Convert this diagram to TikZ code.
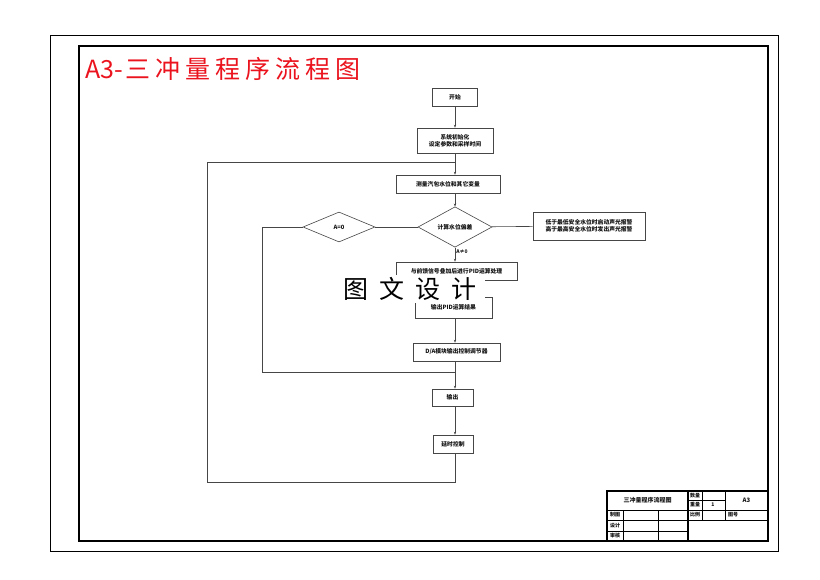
\documentclass[tikz,border=0pt]{standalone}
\usepackage{fontspec}
\usepackage{tikz}
\usetikzlibrary{arrows.meta,shapes.geometric}
\newfontfamily\cjk{Noto Sans CJK SC}
\definecolor{fcline}{RGB}{70,70,70}
\definecolor{fctext}{RGB}{20,20,20}
\definecolor{fctitle}{RGB}{235,20,30}

\begin{document}
\begin{tikzpicture}[
  x=1pt, y=-1pt,
  every node/.style={font=\cjk\bfseries\fontsize{5.8}{7}\selectfont, text=fctext},
  proc/.style={draw=fcline, fill=white, line width=0.6pt, align=center,
    inner sep=1pt},
  decide/.style={diamond, draw=fcline, fill=white, line width=0.6pt,
    inner sep=0pt, minimum width=74pt, minimum height=30pt},
  arr/.style={-{Stealth[length=3pt,width=2.4pt]}, draw=fcline, line width=0.6pt},
  link/.style={draw=fcline, line width=0.6pt},
  lab/.style={font=\cjk\bfseries\fontsize{5}{6}\selectfont, inner sep=1pt},
  cell/.style={font=\cjk\bfseries\fontsize{5}{6}\selectfont, inner sep=0pt},
  frame/.style={draw=black, line width=1.8pt}
]
  \useasboundingbox (0,0) rectangle (820,579);
  \fill[white] (0,0) rectangle (820,579);

  % drawing sheet
  \draw[black, line width=0.6pt] (50,35) rectangle (778,551);
  \draw[frame] (79,46) rectangle (768,541);
  \node[font=\cjk\fontsize{25}{25}\selectfont, text=fctitle, anchor=west,
    inner sep=0pt] (title) at (85,69)
    {A3-\hspace{3pt}三\hspace{5pt}冲\hspace{5pt}量\hspace{5pt}程\hspace{5pt}序\hspace{5pt}流\hspace{5pt}程\hspace{5pt}图};

  % flow chart
  \node[proc, minimum width=45pt, minimum height=18pt] (start) at (455,97) {开始};
  \node[proc, minimum width=76pt, minimum height=25pt] (init) at (455,140.5)
    {系统初始化\\设定参数和采样时间};
  \node[proc, minimum width=104pt, minimum height=18pt] (measure) at (448,184)
    {测量汽包水位和其它变量};
  \node[decide] (calc) at (455,227) {计算水位偏差};
  \node[decide, minimum width=72pt] (zero) at (339,227) {A=0};
  \node[proc, minimum width=112pt, minimum height=28pt] (alarm) at (589,226)
    {低于最低安全水位时启动声光报警\\高于最高安全水位时发出声光报警};
  \node[proc, minimum width=121pt, minimum height=18pt] (pid) at (456.5,271)
    {与前馈信号叠加后进行PID运算处理};
  \node[proc, minimum width=77pt, minimum height=21pt] (result) at (453.5,307.5)
    {输出PID运算结果};
  \node[proc, minimum width=87pt, minimum height=18pt] (da) at (456.5,352)
    {D/A模块输出控制调节器};
  \node[proc, minimum width=41pt, minimum height=17pt] (out) at (452.5,397.5) {输出};
  \node[proc, minimum width=40pt, minimum height=18pt] (delay) at (453,444) {延时控制};

  \coordinate (jtop) at (455,162);
  \coordinate (ltop) at (207,162);
  \coordinate (lbot) at (207,482);
  \coordinate (jbot) at (455,482);
  \coordinate (ibot) at (262,372);
  \coordinate (jmid) at (455,372);

  \draw[arr] (start) -- (init);
  \draw[arr] (init.south -| jtop) -- (measure.north -| jtop);
  \draw[arr] (measure.south -| calc) -- (calc);
  \draw[arr] (calc) -- node[lab, right, pos=0.3]{A≠0} (pid.north -| calc);
  \draw[arr] (pid.south -| calc) -- (result.north -| calc);
  \draw[arr] (result.south -| calc) -- (da.north -| calc);
  \draw[arr] (da.south -| calc) -- (out.north -| calc);
  \draw[arr] (out.south -| calc) -- (delay.north -| calc);
  \draw[link] (calc) -- (alarm);
  \draw[link] (calc) -- (zero);
  \draw[link] (zero.west) -| (ibot) -- (jmid);
  \draw[link] (delay.south -| calc) -- (jbot) -- (lbot) -- (ltop) -- (jtop);

  % watermark
  \node[fill=white, inner xsep=8pt, inner ysep=2pt, text=black,
    font=\cjk\fontsize{25}{25}\selectfont] (mark) at (410,289)
    {图\hspace{11pt}文\hspace{11pt}设\hspace{11pt}计};

  % title block
  \draw[frame] (607,491) rectangle (768,541);
  \draw[frame] (688,491) -- (688,541);
  \draw[black, line width=0.6pt] (607,510) -- (768,510)
    (688,520) -- (768,520) (688,500) -- (725,500)
    (702,491) -- (702,520) (725,491) -- (725,520)
    (607,520) -- (688,520) (607,531) -- (688,531)
    (623,510) -- (623,541) (658,510) -- (658,541);
  \node[cell, font=\cjk\bfseries\fontsize{6}{7}\selectfont] (dname) at (647.5,500.5) {三冲量程序流程图};
  \node[cell] (qty) at (695,495.5) {数量};
  \node[cell] (wgt) at (695,505) {重量};
  \node[cell] (one) at (713,505) {1};
  \node[cell, font=\cjk\bfseries\fontsize{6}{7}\selectfont] (size) at (746.5,500.5) {A3};
  \node[cell] (scale) at (695,515) {比例};
  \node[cell] (dwgno) at (733,515) {图号};
  \node[cell] (drawn) at (615,515) {制图};
  \node[cell] (design) at (615,525.5) {设计};
  \node[cell] (check) at (615,536) {审核};
\end{tikzpicture}
\end{document}
